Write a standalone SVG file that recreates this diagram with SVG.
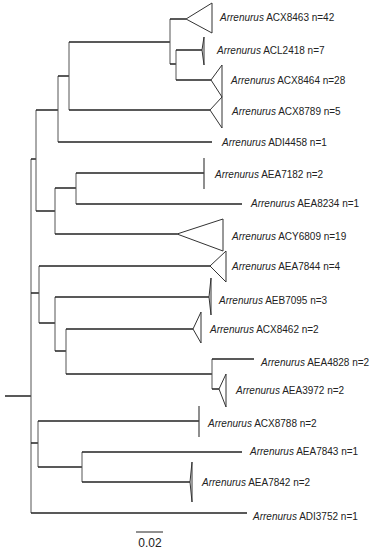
<svg xmlns="http://www.w3.org/2000/svg" width="373" height="550" viewBox="0 0 373 550">
<style>
.h{stroke:#222;stroke-width:1.5;fill:none}
.v{stroke:#555;stroke-width:1;fill:none}
.t{stroke:#333;stroke-width:1;fill:#fff;stroke-linejoin:bevel}
.b{stroke:#444;stroke-width:1.2}
text{font-family:"Liberation Sans",Arial,sans-serif;font-size:10px;fill:#222}
.i{font-style:italic}
.s{font-size:12px}
</style>
<rect width="373" height="550" fill="#fff"/>
<g id="connectors">
<path class="h" d="M5 396H31"/>
<path class="v" d="M31 159V513"/>
<path class="h" d="M31 159H36"/>
<path class="v" d="M36 110V211"/>
<path class="h" d="M36 110H58"/>
<path class="v" d="M58 76V142"/>
<path class="h" d="M58 76H69"/>
<path class="v" d="M69 42V110"/>
<path class="h" d="M69 42H170"/>
<path class="v" d="M170 19V64"/>
<path class="h" d="M170 19H186"/>
<path class="h" d="M170 64H176"/>
<path class="v" d="M176 50V80"/>
<path class="h" d="M176 50H202"/>
<path class="h" d="M176 80H211"/>
<path class="h" d="M69 110H210"/>
<path class="h" d="M58 142H212"/>
<path class="h" d="M36 211H55"/>
<path class="v" d="M55 188V234"/>
<path class="h" d="M55 188H76"/>
<path class="v" d="M76 173V204"/>
<path class="h" d="M76 173H204"/>
<path class="h" d="M76 204H242"/>
<path class="h" d="M55 234H177"/>
<path class="h" d="M31 293H39"/>
<path class="v" d="M39 266V323"/>
<path class="h" d="M39 266H210"/>
<path class="h" d="M39 323H55"/>
<path class="v" d="M55 297V351"/>
<path class="h" d="M55 297H209"/>
<path class="h" d="M55 351H66"/>
<path class="v" d="M66 329V374"/>
<path class="h" d="M66 329H193"/>
<path class="h" d="M66 374H212"/>
<path class="v" d="M212 359V389"/>
<path class="h" d="M212 359H254"/>
<path class="h" d="M212 389H219"/>
<path class="h" d="M31 443H38"/>
<path class="v" d="M38 421V467"/>
<path class="h" d="M38 421H199"/>
<path class="h" d="M38 467H82"/>
<path class="v" d="M82 452V482"/>
<path class="h" d="M82 452H242"/>
<path class="h" d="M82 482H190"/>
<path class="h" d="M31 513H247"/>
</g>
<g id="ACX8463"><polygon class="t" points="186,19 212,3 212,33"/><text x="220" y="21"><tspan class="i">Arrenurus</tspan> ACX8463 n=42</text></g>
<g id="ACL2418"><polygon class="t" points="202,50 204,37 204,65"/><text x="217" y="54"><tspan class="i">Arrenurus</tspan> ACL2418 n=7</text></g>
<g id="ACX8464"><polygon class="t" points="211,80 222,65 222,97"/><text x="231" y="84"><tspan class="i">Arrenurus</tspan> ACX8464 n=28</text></g>
<g id="ACX8789"><polygon class="t" points="210,110 222,97 222,128"/><text x="232" y="115"><tspan class="i">Arrenurus</tspan> ACX8789 n=5</text></g>
<g id="ADI4458"><text x="222" y="146"><tspan class="i">Arrenurus</tspan> ADI4458 n=1</text></g>
<g id="AEA7182"><line class="b" x1="204" y1="158" x2="204" y2="189"/><text x="215" y="178"><tspan class="i">Arrenurus</tspan> AEA7182 n=2</text></g>
<g id="AEA8234"><text x="251" y="207"><tspan class="i">Arrenurus</tspan> AEA8234 n=1</text></g>
<g id="ACY6809"><polygon class="t" points="177,234 223,219 223,251"/><text x="232" y="240"><tspan class="i">Arrenurus</tspan> ACY6809 n=19</text></g>
<g id="AEA7844"><polygon class="t" points="210,266 226,251 226,282"/><text x="232" y="270"><tspan class="i">Arrenurus</tspan> AEA7844 n=4</text></g>
<g id="AEB7095"><polygon class="t" points="209,297 211,278 211,315"/><text x="219" y="304"><tspan class="i">Arrenurus</tspan> AEB7095 n=3</text></g>
<g id="ACX8462"><polygon class="t" points="193,329 201,312 201,343"/><text x="210" y="333"><tspan class="i">Arrenurus</tspan> ACX8462 n=2</text></g>
<g id="AEA4828"><text x="261" y="366"><tspan class="i">Arrenurus</tspan> AEA4828 n=2</text></g>
<g id="AEA3972"><polygon class="t" points="219,389 226,374 226,407"/><text x="236" y="394"><tspan class="i">Arrenurus</tspan> AEA3972 n=2</text></g>
<g id="ACX8788"><line class="b" x1="199" y1="406" x2="199" y2="437"/><text x="208" y="427"><tspan class="i">Arrenurus</tspan> ACX8788 n=2</text></g>
<g id="AEA7843"><text x="250" y="455"><tspan class="i">Arrenurus</tspan> AEA7843 n=1</text></g>
<g id="AEA7842"><polygon class="t" points="190,482 192,462 192,502"/><text x="202" y="486"><tspan class="i">Arrenurus</tspan> AEA7842 n=2</text></g>
<g id="ADI3752"><text x="253" y="520"><tspan class="i">Arrenurus</tspan> ADI3752 n=1</text></g>
<g id="scale"><line class="h" x1="136" y1="532" x2="163" y2="532" style="stroke-width:1"/><text class="s" x="150" y="547" text-anchor="middle">0.02</text></g>
</svg>
